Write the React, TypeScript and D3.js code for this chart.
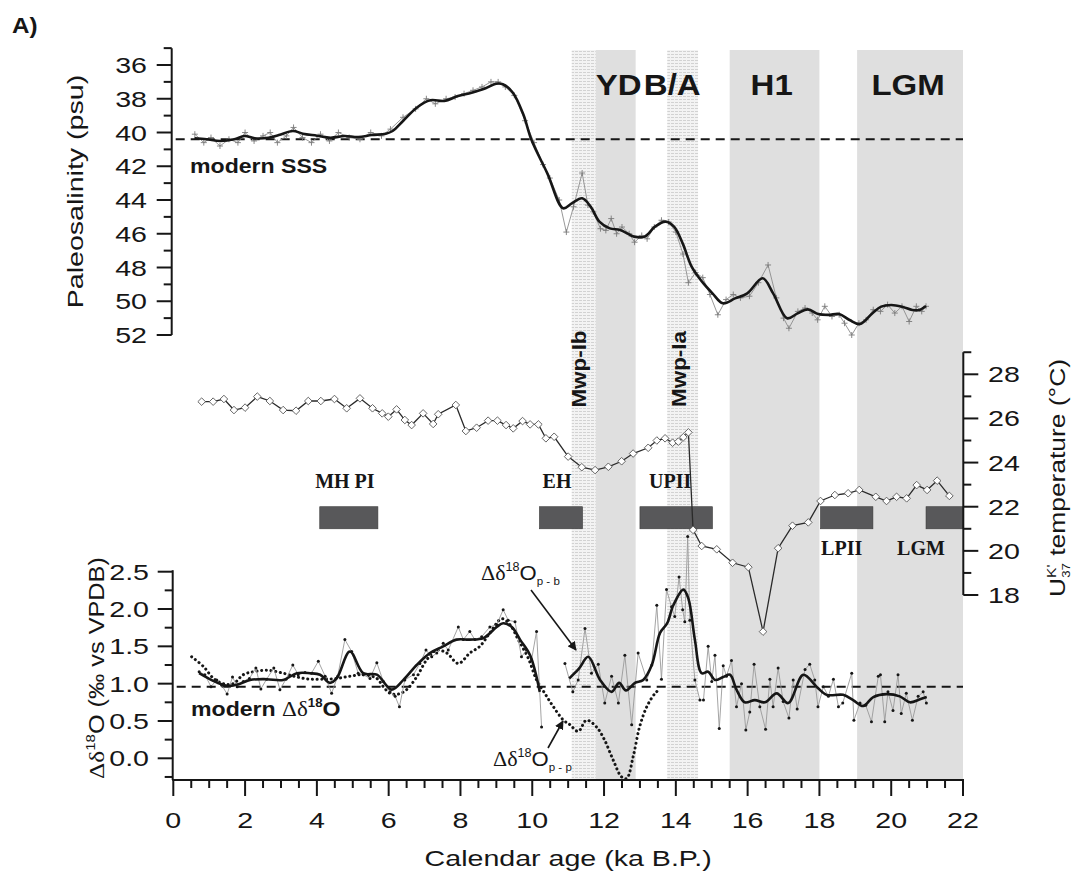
import React, { useEffect } from "react";
import * as d3 from "d3";

// ---------------- data ----------------
const ageTicks = [0, 2, 4, 6, 8, 10, 12, 14, 16, 18, 20, 22];
const salTicks = [36, 38, 40, 42, 44, 46, 48, 50, 52];
const tempTicks = [18, 20, 22, 24, 26, 28];
const d18Ticks = [0.0, 0.5, 1.0, 1.5, 2.0, 2.5];

const modernSSS = 40.4;
const modernD18 = 0.96;

const shadeStart = [11.1, 11.77, 13.76, 15.5, 19.05];
const shadeEnd = [11.77, 12.88, 14.62, 18.0, 22.0];
const shadeKind = ["mwp", "gray", "mwp", "gray", "gray"];

const eventLabels = ["YD", "B/A", "H1", "LGM"];
const eventLabelAge = [12.41, 13.9, 16.67, 20.47];
const mwpLabels = ["Mwp-Ib", "Mwp-Ia"];
const mwpLabelAge = [11.5, 14.28];

const barLabels = ["MH PI", "EH", "UPII", "LPII", "LGM"];
const barStart = [4.08, 10.2, 13.0, 18.03, 20.97];
const barEnd = [5.7, 11.4, 15.02, 19.49, 22.0];
const barLabelAge = [4.78, 10.69, 13.84, 18.62, 20.83];
const barLabelBelow = [false, false, false, true, true];

const salinitySmooth: [number, number][] = [
  [0.59, 40.34], [0.93, 40.4], [1.31, 40.5], [1.7, 40.4], [1.98, 40.21], [2.27, 40.34],
  [2.65, 40.31], [2.94, 40.15], [3.33, 39.91], [3.61, 40.07], [4.0, 40.19], [4.38, 40.31],
  [4.77, 40.21], [5.15, 40.27], [5.53, 40.15], [5.92, 40.07], [6.11, 39.91], [6.4, 39.32],
  [6.78, 38.53], [7.16, 38.09], [7.55, 38.13], [7.93, 37.84], [8.31, 37.64], [8.7, 37.38],
  [8.99, 37.11], [9.18, 37.14], [9.46, 37.64], [9.75, 38.92], [9.98, 40.45], [10.42, 42.42],
  [10.86, 44.49], [11.1, 44.2], [11.39, 43.9], [11.63, 44.4], [11.87, 45.28], [12.16, 45.68],
  [12.45, 45.78], [12.84, 46.17], [13.13, 46.17], [13.42, 45.58], [13.71, 45.28], [13.95, 45.58],
  [14.19, 46.57], [14.44, 47.95], [14.73, 48.84], [15.02, 49.53], [15.31, 50.12], [15.65, 49.83],
  [15.99, 49.53], [16.42, 48.64], [16.71, 49.53], [17.1, 51.01], [17.39, 50.72], [17.68, 50.48],
  [17.97, 50.76], [18.26, 50.81], [18.55, 50.76], [18.84, 51.11], [19.13, 51.35], [19.47, 50.72],
  [19.72, 50.32], [20.0, 50.22], [20.3, 50.32], [20.59, 50.52], [20.78, 50.52], [20.97, 50.28],
];

const salinityRaw: [number, number][] = [
  [0.6, 40.1], [0.85, 40.6], [1.05, 40.3], [1.3, 40.8], [1.55, 40.4], [1.8, 40.6], [2.0, 40.0],
  [2.25, 40.5], [2.5, 40.2], [2.7, 40.0], [2.9, 40.6], [3.15, 40.2], [3.35, 39.7], [3.6, 40.3],
  [3.85, 40.6], [4.1, 40.1], [4.35, 40.5], [4.6, 40.0], [4.9, 40.3], [5.2, 40.4], [5.5, 40.0],
  [5.8, 40.2], [6.05, 39.8], [6.4, 39.1], [6.75, 38.6], [7.05, 38.0], [7.3, 38.3], [7.6, 38.0],
  [7.85, 37.9], [8.1, 37.7], [8.35, 37.5], [8.6, 37.3], [8.85, 37.0], [9.05, 37.0], [9.25, 37.3],
  [9.5, 37.8], [9.8, 39.3], [10.05, 40.6], [10.3, 41.9], [10.49, 42.7], [10.75, 44.0], [10.95, 45.9],
  [11.15, 44.4], [11.39, 42.4], [11.55, 44.3], [11.7, 44.7], [11.9, 45.7], [12.05, 45.8],
  [12.2, 45.1], [12.35, 46.0], [12.5, 45.6], [12.7, 46.0], [12.85, 46.5], [13.05, 46.1],
  [13.2, 46.3], [13.4, 45.6], [13.6, 45.2], [13.8, 45.3], [14.0, 45.9], [14.2, 47.2], [14.35, 48.9],
  [14.55, 48.3], [14.75, 48.6], [14.95, 49.6], [15.17, 50.8], [15.4, 49.9], [15.6, 49.6],
  [15.8, 49.8], [16.05, 49.7], [16.3, 48.9], [16.57, 47.85], [16.8, 49.8], [17.0, 51.0],
  [17.15, 51.6], [17.4, 50.6], [17.6, 50.4], [17.8, 50.7], [17.95, 51.1], [18.15, 50.3],
  [18.35, 50.9], [18.55, 50.8], [18.7, 51.3], [18.9, 52.0], [19.1, 51.3], [19.3, 51.1],
  [19.5, 50.5], [19.7, 50.6], [19.9, 50.2], [20.1, 50.7], [20.3, 50.3], [20.5, 51.2], [20.7, 50.3],
  [20.85, 50.6], [20.97, 50.3],
];

const temperature: [number, number][] = [
  [0.79, 26.76], [1.11, 26.76], [1.41, 26.88], [1.69, 26.38], [2.0, 26.49], [2.34, 26.99],
  [2.69, 26.79], [3.06, 26.38], [3.42, 26.35], [3.76, 26.79], [4.11, 26.79], [4.49, 26.88],
  [4.83, 26.46], [5.2, 26.91], [5.55, 26.46], [5.82, 26.23], [5.99, 26.08], [6.22, 26.41],
  [6.45, 25.93], [6.64, 25.7], [6.96, 26.23], [7.24, 25.75], [7.38, 26.19], [7.87, 26.61],
  [8.15, 25.43], [8.45, 25.58], [8.77, 25.9], [9.03, 25.9], [9.27, 25.7], [9.47, 25.55],
  [9.73, 25.88], [9.94, 25.73], [10.17, 25.73], [10.38, 25.1], [10.61, 25.17], [11.0, 24.27],
  [11.38, 23.79], [11.75, 23.66], [12.12, 23.81], [12.49, 24.06], [12.81, 24.41], [13.23, 24.67],
  [13.47, 25.0], [13.7, 25.1], [13.91, 24.9], [14.07, 24.95], [14.21, 25.15], [14.35, 25.37],
  [14.48, 20.95], [14.72, 20.22], [15.14, 20.07], [15.58, 19.46], [16.02, 19.26], [16.43, 16.34],
  [16.85, 20.12], [17.25, 21.14], [17.69, 21.29], [18.03, 22.26], [18.43, 22.53], [18.8, 22.61],
  [19.11, 22.76], [19.57, 22.45], [19.87, 22.26], [20.15, 22.45], [20.43, 22.38], [20.71, 22.98],
  [21.0, 22.76], [21.28, 23.18], [21.62, 22.49],
];

const d18RawEarly: [number, number][] = [
  [0.72, 1.16], [0.88, 1.12], [1.05, 0.96], [1.21, 1.05], [1.35, 0.98], [1.5, 0.86], [1.65, 1.09],
  [1.78, 0.96], [1.95, 1.03], [2.12, 1.07], [2.3, 1.21], [2.44, 0.93], [2.6, 1.06], [2.8, 1.21],
  [2.97, 0.92], [3.14, 1.06], [3.33, 1.25], [3.48, 1.12], [3.67, 1.15], [3.85, 1.14], [4.04, 1.3],
  [4.23, 1.1], [4.41, 0.87], [4.58, 1.1], [4.78, 1.59], [4.97, 1.43], [5.15, 1.14], [5.29, 1.12],
  [5.48, 1.07], [5.67, 1.28], [5.85, 1.03], [6.04, 0.89], [6.18, 0.83], [6.3, 0.69], [6.45, 1.05],
  [6.69, 1.12], [6.87, 1.27], [7.04, 1.45], [7.2, 1.36], [7.34, 1.41], [7.52, 1.54], [7.66, 1.45],
  [7.94, 1.76], [8.08, 1.59], [8.26, 1.7], [8.4, 1.59], [8.59, 1.63], [8.82, 1.76], [9.01, 1.79],
  [9.19, 1.99], [9.33, 1.85], [9.52, 1.83], [9.7, 1.36], [9.84, 1.45], [9.98, 1.32], [10.12, 1.7],
  [10.26, 0.42],
];

const d18RawLate: [number, number][] = [
  [10.91, 1.27], [11.13, 0.89], [11.28, 1.05], [11.47, 1.74], [11.65, 1.14], [11.84, 1.26],
  [12.02, 0.74], [12.21, 1.1], [12.4, 0.74], [12.58, 1.38], [12.77, 0.45], [12.95, 1.41],
  [13.19, 1.05], [13.33, 1.25], [13.47, 2.05], [13.6, 1.06], [13.74, 2.26], [13.88, 2.03],
  [13.97, 1.9], [14.09, 2.43], [14.19, 1.99], [14.25, 1.83], [14.33, 2.97], [14.39, 1.85],
  [14.53, 1.05], [14.67, 0.78], [14.77, 0.78], [14.9, 1.5], [15.0, 1.03], [15.09, 1.38],
  [15.21, 0.4], [15.32, 1.24], [15.41, 1.1], [15.55, 1.31], [15.69, 0.69], [15.83, 1.0],
  [15.95, 0.38], [16.06, 0.62], [16.18, 1.26], [16.34, 0.69], [16.5, 0.39], [16.62, 1.06],
  [16.71, 0.69], [16.85, 1.21], [16.99, 0.76], [17.15, 0.54], [17.27, 1.05], [17.38, 0.66],
  [17.6, 1.19], [17.73, 1.26], [17.87, 1.05], [17.96, 0.69], [18.11, 0.96], [18.25, 0.83],
  [18.39, 1.06], [18.53, 0.69], [18.65, 0.74], [18.9, 1.14], [18.96, 0.51], [19.13, 0.74],
  [19.29, 0.71], [19.45, 0.49], [19.64, 1.1], [19.7, 1.12], [19.82, 0.49], [19.91, 0.89],
  [20.05, 0.64], [20.19, 1.12], [20.28, 0.6], [20.42, 0.87], [20.59, 0.51], [20.75, 0.83],
  [20.89, 0.89], [20.98, 0.74],
];

const d18SmoothEarly: [number, number][] = [
  [0.72, 1.14], [0.98, 1.07], [1.3, 1.0], [1.58, 0.97], [1.86, 1.0], [2.14, 1.05], [2.6, 1.06],
  [3.06, 1.05], [3.44, 1.14], [3.81, 1.14], [4.09, 1.12], [4.36, 1.01], [4.55, 1.07], [4.92, 1.43],
  [5.29, 1.14], [5.67, 1.12], [6.08, 0.92], [6.41, 1.05], [6.78, 1.25], [7.15, 1.41], [7.52, 1.5],
  [7.89, 1.59], [8.26, 1.59], [8.64, 1.61], [9.01, 1.76], [9.19, 1.81], [9.43, 1.76], [9.66, 1.59],
  [9.94, 1.38], [10.21, 0.89],
];

const d18SmoothLate: [number, number][] = [
  [11.03, 1.07], [11.3, 1.2], [11.56, 1.36], [11.89, 1.05], [12.21, 0.89], [12.42, 1.01],
  [12.61, 0.91], [12.86, 1.01], [13.09, 1.05], [13.33, 1.25], [13.56, 1.68], [13.76, 1.81],
  [13.93, 2.05], [14.21, 2.26], [14.35, 2.14], [14.53, 1.59], [14.72, 1.14], [14.9, 1.16],
  [15.09, 1.05], [15.32, 1.09], [15.51, 1.12], [15.69, 0.92], [15.92, 0.75], [16.2, 0.78],
  [16.48, 0.75], [16.81, 0.87], [17.13, 0.74], [17.55, 1.12], [17.92, 0.96], [18.2, 0.85],
  [18.66, 0.85], [18.94, 0.78], [19.22, 0.7], [19.5, 0.82], [19.87, 0.86], [20.24, 0.83],
  [20.52, 0.75], [20.8, 0.79], [20.99, 0.82],
];

const d18PP: [number, number][] = [
  [0.51, 1.36], [0.84, 1.23], [1.12, 1.07], [1.39, 1.0], [1.67, 1.0], [1.95, 1.12], [2.23, 1.16],
  [2.6, 1.18], [3.06, 1.14], [3.44, 1.09], [3.81, 1.06], [4.18, 1.06], [4.55, 1.07], [4.92, 1.1],
  [5.29, 1.12], [5.67, 1.07], [5.85, 0.96], [6.04, 0.87], [6.27, 0.86], [6.5, 0.92], [6.78, 1.09],
  [7.06, 1.32], [7.34, 1.45], [7.62, 1.41], [7.94, 1.27], [8.26, 1.41], [8.54, 1.5], [8.82, 1.68],
  [9.15, 1.87], [9.38, 1.79], [9.61, 1.59], [9.89, 1.34], [10.12, 1.05], [10.35, 0.87],
  [10.59, 0.69], [10.87, 0.51], [11.05, 0.45], [11.28, 0.36], [11.51, 0.51], [11.79, 0.42],
  [12.02, 0.24], [12.26, -0.03], [12.49, -0.25], [12.63, -0.27], [12.81, 0.02], [12.99, 0.42],
  [13.19, 0.69], [13.42, 0.87], [13.56, 0.93],
];

// ---------------- layout ----------------
const W = 1075;
const H = 879;
const SANS = "'Liberation Sans', Arial, sans-serif";
const SERIF = "'Liberation Serif', 'Times New Roman', serif";
const INK = "#161616";

const x = d3.scaleLinear().domain([0, 22]).range([173.3, 963]);
const ySal = d3.scaleLinear().domain([36, 52]).range([65, 335]);
const yTemp = d3.scaleLinear().domain([18, 28]).range([595, 374.3]);
const yD = d3.scaleLinear().domain([0, 2.5]).range([758.3, 571.7]);

const SHADE_TOP = 50;
const AXIS_Y = 780;
const SAL_AX = 171.7;
const D_AX = 172.7;
const T_AX = 963.3;

type TxtProps = {
  x: number; y: number; s?: number; rot?: number; anchor?: string; size?: number;
  weight?: string | number; family?: string; children?: React.ReactNode; fill?: string;
};
function Txt({ x, y, s = 1.3, rot = 0, anchor = "middle", size = 22, weight = "normal", family = SANS, children, fill = INK }: TxtProps) {
  return (
    <text
      transform={`translate(${x},${y})${rot ? ` rotate(${rot})` : ""} scale(${s},1)`}
      textAnchor={anchor as any}
      fontSize={size}
      fontWeight={weight as any}
      fontFamily={family}
      fill={fill}
    >
      {children}
    </text>
  );
}

export default function App() {
  useEffect(() => {
    document.body.style.margin = "0";
  }, []);

  const lineSmooth = d3.line<[number, number]>().curve(d3.curveCatmullRom.alpha(0.5));
  const lineLin = d3.line<[number, number]>();

  const salS = lineSmooth.x((d) => x(d[0])).y((d) => ySal(d[1]))(salinitySmooth) || "";
  const salR = lineLin.x((d) => x(d[0])).y((d) => ySal(d[1]))(salinityRaw) || "";
  const tempP = d3.line<[number, number]>().x((d) => x(d[0])).y((d) => yTemp(d[1]))(temperature) || "";
  const dLin = d3.line<[number, number]>().x((d) => x(d[0])).y((d) => yD(d[1]));
  const dSm = d3.line<[number, number]>().x((d) => x(d[0])).y((d) => yD(d[1])).curve(d3.curveCatmullRom.alpha(0.5));

  const salMinor = ySal.ticks(17).filter((v) => v % 2 !== 0).concat([35]);
  const tempMinor = [19, 21, 23, 25, 27, 29];
  const dMinor = [-0.25, 0.25, 0.75, 1.25, 1.75, 2.25];
  const ageMinor = x.ticks(44).filter((v) => v % 2 !== 0);

  return (
    <svg width={W} height={H} viewBox={`0 0 ${W} ${H}`} style={{ display: "block", position: "absolute", left: 0, top: 0, background: "#fff" }}>
      <defs>
        <pattern id="stip" width="4" height="3" patternUnits="userSpaceOnUse">
          <rect width="4" height="3" fill="#f3f3f3" />
          <line x1="0" y1="0.5" x2="4" y2="0.5" stroke="#d2d2d2" strokeWidth="1" strokeDasharray="2 1" />
        </pattern>
        <marker id="arr" viewBox="0 0 10 10" refX="9" refY="5" markerWidth="9" markerHeight="9" orient="auto" markerUnits="userSpaceOnUse">
          <path d="M0,0 L10,5 L0,10 Z" fill={INK} />
        </marker>
      </defs>

      {/* shaded intervals */}
      {shadeStart.map((s, i) => (
        <rect key={"sh" + i} x={x(s)} y={SHADE_TOP} width={x(shadeEnd[i]) - x(s)} height={AXIS_Y - SHADE_TOP}
          fill={shadeKind[i] === "mwp" ? "url(#stip)" : "#dfdfdf"} />
      ))}

      {/* panel label */}
      <Txt x={12} y={33} anchor="start" size={22} weight="bold" s={1.1}>A)</Txt>

      {/* event labels */}
      {eventLabels.map((l, i) => (
        <Txt key={"ev" + i} x={x(eventLabelAge[i])} y={95} size={30} weight="bold" s={1.1}>{l}</Txt>
      ))}
      {mwpLabels.map((l, i) => (
        <Txt key={"mw" + i} x={x(mwpLabelAge[i])} y={369} rot={-90} size={20} weight="bold" s={1.12}>{l}</Txt>
      ))}

      {/* ---------- salinity panel ---------- */}
      <line x1={SAL_AX + 4} x2={x(22)} y1={ySal(modernSSS)} y2={ySal(modernSSS)} stroke={INK} strokeWidth={2} strokeDasharray="9 6" />
      <path d={salR} fill="none" stroke="#8c8c8c" strokeWidth={0.9} />
      {salinityRaw.map((d, i) => (
        <path key={"sp" + i} d={`M${x(d[0]) - 3},${ySal(d[1])}h6M${x(d[0])},${ySal(d[1]) - 3}v6`} stroke="#7a7a7a" strokeWidth={0.9} />
      ))}
      <path d={salS} fill="none" stroke={INK} strokeWidth={2.6} strokeLinejoin="round" />
      <Txt x={190} y={173} anchor="start" size={21} weight="bold" s={1.1}>modern SSS</Txt>

      <line x1={SAL_AX} x2={SAL_AX} y1={ySal(35)} y2={ySal(52)} stroke={INK} strokeWidth={2} />
      {salTicks.map((t) => (
        <g key={"st" + t}>
          <line x1={SAL_AX - 15} x2={SAL_AX} y1={ySal(t)} y2={ySal(t)} stroke={INK} strokeWidth={2} />
          <Txt x={147} y={ySal(t) + 8} anchor="end">{t}</Txt>
        </g>
      ))}
      {salMinor.map((t) => (
        <line key={"sm" + t} x1={SAL_AX - 8} x2={SAL_AX} y1={ySal(t)} y2={ySal(t)} stroke={INK} strokeWidth={2} />
      ))}
      <Txt x={83} y={(ySal(35) + ySal(52)) / 2} rot={-90}>Paleosalinity (psu)</Txt>

      {/* ---------- temperature panel ---------- */}
      {barStart.map((s, i) => (
        <g key={"bar" + i}>
          <rect x={x(s)} y={yTemp(22)} width={x(barEnd[i]) - x(s)} height={yTemp(21) - yTemp(22)} fill="#58585a" stroke="#3a3a3a" strokeWidth={0.6} />
          <Txt x={x(barLabelAge[i])} y={barLabelBelow[i] ? 555 : 488} size={20} weight="bold" family={SERIF} s={1.0}>{barLabels[i]}</Txt>
        </g>
      ))}
      <path d={tempP} fill="none" stroke="#2a2a2a" strokeWidth={1.3} />
      {temperature.map((d, i) => {
        const cx = x(d[0]);
        const cy = yTemp(d[1]);
        return <path key={"tp" + i} d={`M${cx},${cy - 3.8}L${cx + 3.8},${cy}L${cx},${cy + 3.8}L${cx - 3.8},${cy}Z`} fill="#fff" stroke="#555" strokeWidth={0.9} />;
      })}
      <line x1={T_AX} x2={T_AX} y1={yTemp(18)} y2={yTemp(29)} stroke={INK} strokeWidth={2} />
      {tempTicks.map((t) => (
        <g key={"tt" + t}>
          <line x1={T_AX} x2={T_AX + 15} y1={yTemp(t)} y2={yTemp(t)} stroke={INK} strokeWidth={2} />
          <Txt x={988} y={yTemp(t) + 8} anchor="start">{t}</Txt>
        </g>
      ))}
      {tempMinor.map((t) => (
        <line key={"tm" + t} x1={T_AX} x2={T_AX + 8} y1={yTemp(t)} y2={yTemp(t)} stroke={INK} strokeWidth={2} />
      ))}
      <text transform={`translate(1065,${478}) rotate(-90) scale(1.2,1)`} textAnchor="middle" fontSize={22} fontFamily={SANS} fill={INK}>
        U<tspan fontSize={13} dy={-9}>K'</tspan><tspan fontSize={11} dx={-11} dy={14}>37</tspan><tspan dy={-5}> temperature (°C)</tspan>
      </text>

      {/* ---------- delta 18O panel ---------- */}
      <line x1={D_AX + 4} x2={x(22)} y1={yD(modernD18)} y2={yD(modernD18)} stroke={INK} strokeWidth={2} strokeDasharray="9 6" />
      <path d={dSm(d18PP) || ""} fill="none" stroke={INK} strokeWidth={3} strokeDasharray="0.1 4.6" strokeLinecap="round" />
      <path d={dLin(d18RawEarly) || ""} fill="none" stroke="#9a9a9a" strokeWidth={0.9} />
      <path d={dLin(d18RawLate) || ""} fill="none" stroke="#9a9a9a" strokeWidth={0.9} />
      {d18RawEarly.concat(d18RawLate).map((d, i) => (
        <circle key={"dr" + i} cx={x(d[0])} cy={yD(d[1])} r={1.5} fill={INK} />
      ))}
      <path d={dSm(d18SmoothEarly) || ""} fill="none" stroke={INK} strokeWidth={2.6} strokeLinejoin="round" />
      <path d={dSm(d18SmoothLate) || ""} fill="none" stroke={INK} strokeWidth={2.6} strokeLinejoin="round" />

      <text transform="translate(191,716) scale(1.1,1)" fontSize={21} fontWeight="bold" fontFamily={SANS} fill={INK}>
        modern <tspan fontFamily={SERIF} fontWeight="normal">Δδ</tspan><tspan fontSize={12} dy={-9}>18</tspan><tspan dy={9}>O</tspan>
      </text>

      {/* series annotations */}
      <text transform="translate(481,580) scale(1.05,1)" fontSize={21} fontFamily={SERIF} fill={INK}>
        Δδ<tspan fontSize={12} dy={-9} fontFamily={SANS}>18</tspan><tspan dy={9} fontFamily={SANS}>O</tspan><tspan fontSize={11} dy={5} fontFamily={SANS}>p - b</tspan>
      </text>
      <line x1={531} y1={590} x2={576} y2={650} stroke={INK} strokeWidth={1.6} markerEnd="url(#arr)" />
      <text transform="translate(493,766) scale(1.05,1)" fontSize={21} fontFamily={SERIF} fill={INK}>
        Δδ<tspan fontSize={12} dy={-9} fontFamily={SANS}>18</tspan><tspan dy={9} fontFamily={SANS}>O</tspan><tspan fontSize={11} dy={5} fontFamily={SANS}>p - p</tspan>
      </text>
      <line x1={548} y1={748} x2={563} y2={721} stroke={INK} strokeWidth={1.6} markerEnd="url(#arr)" />

      <line x1={D_AX} x2={D_AX} y1={yD(2.5) - 1.5} y2={AXIS_Y} stroke={INK} strokeWidth={2} />
      {d18Ticks.map((t) => (
        <g key={"dt" + t}>
          <line x1={D_AX - 15} x2={D_AX} y1={yD(t)} y2={yD(t)} stroke={INK} strokeWidth={2} />
          <Txt x={149} y={yD(t) + 8} anchor="end">{t.toFixed(1)}</Txt>
        </g>
      ))}
      {dMinor.map((t) => (
        <line key={"dm" + t} x1={D_AX - 8} x2={D_AX} y1={yD(t)} y2={yD(t)} stroke={INK} strokeWidth={2} />
      ))}
      <text transform={`translate(104,668) rotate(-90) scale(1.15,1)`} textAnchor="middle" fontSize={22} fontFamily={SANS} fill={INK}>
        <tspan fontFamily={SERIF}>Δδ</tspan><tspan fontSize={13} dy={-9}>18</tspan><tspan dy={9}>O (‰ vs VPDB)</tspan>
      </text>

      {/* ---------- x axis ---------- */}
      <line x1={x(0) - 1} x2={x(22) + 1} y1={AXIS_Y} y2={AXIS_Y} stroke={INK} strokeWidth={2.2} />
      {ageTicks.map((t) => (
        <g key={"at" + t}>
          <line x1={x(t)} x2={x(t)} y1={AXIS_Y} y2={AXIS_Y + 16} stroke={INK} strokeWidth={2} />
          <Txt x={x(t)} y={828}>{t}</Txt>
        </g>
      ))}
      {ageMinor.map((t) => (
        <line key={"am" + t} x1={x(t)} x2={x(t)} y1={AXIS_Y} y2={AXIS_Y + 8} stroke={INK} strokeWidth={2} />
      ))}
      <Txt x={(x(0) + x(22)) / 2} y={866}>Calendar age (ka B.P.)</Txt>
    </svg>
  );
}
